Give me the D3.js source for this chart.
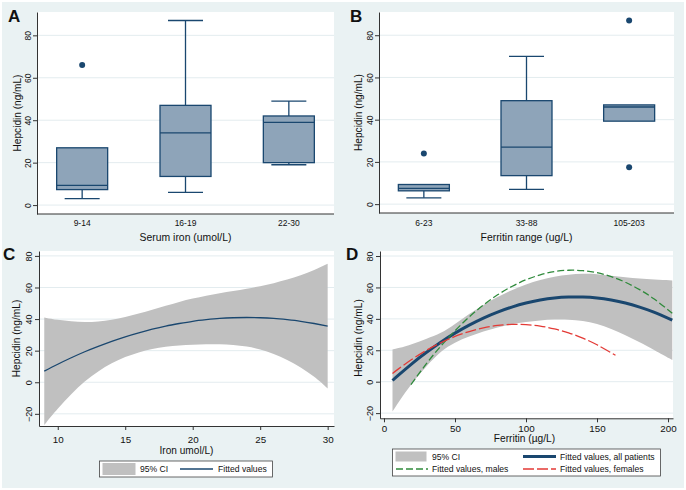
<!DOCTYPE html>
<html><head><meta charset="utf-8">
<script src="https://cdn.jsdelivr.net/npm/d3@7"></script>
<style>body{margin:0;background:#fff}svg{display:block}text{font-family:"Liberation Sans",Arial,sans-serif;fill:#111}</style>
</head><body><svg id="c" width="686" height="490"></svg>
<script>
// ---------- DATA ----------
// Panel A: hepcidin by serum iron group
const ironGroups = ["9-14", "16-19", "22-30"];
const ironLowW  = [3, 6, 19];
const ironQ1    = [7.3, 13.5, 20];
const ironMed   = [9.3, 34, 39];
const ironQ3    = [27, 47, 42];
const ironHighW = [27, 87, 49];
const ironOut   = [[66], [], []];
// Panel B: hepcidin by ferritin range
const ferrGroups = ["6-23", "33-88", "105-203"];
const ferrLowW  = [3, 7, 39.3];
const ferrQ1    = [6.3, 13.5, 39.3];
const ferrMed   = [7.5, 27, 46];
const ferrQ3    = [9.3, 49, 47];
const ferrHighW = [9.3, 70, 47];
const ferrOut   = [[24], [], [87, 17.5]];
// Panel C: quadratic fit of hepcidin on iron, with 95% CI
const ironX    = [9, 10, 11, 12, 13, 14, 15, 16, 17, 18, 19, 20, 21, 22, 23, 24, 25, 26, 27, 28, 29, 30];
const ironFit  = [7, 11.4, 15.5, 19.3, 22.7, 25.9, 28.8, 31.3, 33.6, 35.6, 37.2, 38.6, 39.6, 40.4, 40.85, 41, 40.85, 40.4, 39.6, 38.6, 37.2, 35.6];
const ironUp   = [41, 39.4, 38.5, 38, 38.4, 39.5, 41.2, 43.4, 45.9, 48.4, 50.9, 53, 54.8, 56.4, 57.8, 59.2, 60.8, 62.7, 64.9, 67.6, 70.9, 75.1];
const ironLo   = [-27, -16.6, -7.5, 0.8, 7, 12.2, 16.1, 19, 21.1, 22.5, 23.3, 23.8, 24.1, 24.1, 23.7, 22.7, 20.9, 18.1, 14.3, 9.6, 3.7, -3.9];
// Panel D: quadratic fits of hepcidin on ferritin
const ferrX    = [6, 10, 20, 30, 40, 50, 60, 70, 80, 90, 100, 110, 120, 130, 140, 150, 160, 170, 180, 190, 203];
const ferrFit  = [0.75, 4, 11.7, 18.7, 25.1, 30.9, 36, 40.5, 44.3, 47.5, 50.1, 52, 53.3, 53.9, 53.9, 53.3, 52, 50.1, 47.5, 44.3, 39.2];
const ferrUp   = [20.5, 21.2, 23.9, 27.4, 30.6, 36.7, 43.2, 49, 54, 58.4, 62.1, 64.9, 67, 68.2, 68.8, 68.6, 67.4, 66.4, 65.6, 65, 64.5];
const ferrLo   = [-19, -13.2, -0.5, 10, 19.6, 25.1, 28.8, 32, 34.6, 36.6, 38.1, 39.1, 39.6, 39.6, 38.8, 36.9, 33.6, 29.6, 25.2, 20.3, 13.8];
const maleX    = [19, 30, 40, 50, 60, 70, 80, 90, 100, 110, 120, 130, 140, 150, 160, 170, 180, 190, 203];
const maleFit  = [-1.8, 11.6, 22.6, 32.4, 41.2, 48.8, 55.3, 60.6, 64.9, 68, 70.1, 70.95, 70.7, 69.4, 66.9, 63.3, 58.6, 52.8, 43.6];
const femX     = [6, 10, 20, 30, 40, 50, 60, 70, 80, 90, 100, 110, 120, 130, 140, 150, 163];
const femFit   = [5.2, 8, 14.4, 20, 24.8, 28.8, 31.9, 34.2, 35.8, 36.45, 36.3, 35.4, 33.6, 31.1, 27.7, 23.5, 16.8];
// tick labels
const boxYTicks = [0, 20, 40, 60, 80];
const fitYTicks = [-20, 0, 20, 40, 60, 80];
const ironXTicks = [10, 15, 20, 25, 30];
const ferrXTicks = [0, 50, 100, 150, 200];

// ---------- STYLE ----------
const NAVY = "#1a476f", BOXFILL = "#8ea4b9", CIG = "#c0c0c0", GREEN = "#2f8a3b", RED = "#e33a36";
const BG = "#eaf2f3", GRID = "#e3ecef", AX = "#333";
const svg = d3.select("#c");
svg.append("rect").attr("width", 686).attr("height", 490).attr("fill", "#fff");
svg.append("rect").attr("x", 2).attr("y", 2).attr("width", 682).attr("height", 486).attr("fill", BG);

function plotArea(x0, x1, y0, y1) {
  svg.append("rect").attr("x", x0).attr("y", y0).attr("width", x1 - x0).attr("height", y1 - y0).attr("fill", "#fff");
}
function yAxis(x0, x1, y, ticks, fs, off) {
  svg.append("g").selectAll("line").data(ticks).join("line")
    .attr("x1", x0).attr("x2", x1).attr("y1", d => y(d)).attr("y2", d => y(d))
    .attr("stroke", GRID).attr("stroke-width", 1);
  const g = svg.append("g").attr("transform", `translate(${x0},0)`)
    .call(d3.axisLeft(y).tickValues(ticks).tickSize(4).tickSizeOuter(0).tickFormat(d3.format("d")));
  g.attr("font-family", null).attr("font-size", null);
  g.select(".domain").attr("stroke", AX);
  g.selectAll(".tick line").attr("stroke", AX);
  g.selectAll(".tick text").attr("transform", "rotate(-90)").attr("x", 0).attr("y", -off)
    .attr("dy", 0).attr("text-anchor", "middle").attr("font-size", fs).attr("fill", "#111");
}
function xAxisNum(y0, x, ticks, fs, off) {
  const g = svg.append("g").attr("transform", `translate(0,${y0})`)
    .call(d3.axisBottom(x).tickValues(ticks).tickSize(4).tickSizeOuter(0).tickFormat(d3.format("d")));
  g.attr("font-family", null).attr("font-size", null);
  g.select(".domain").attr("stroke", AX);
  g.selectAll(".tick line").attr("stroke", AX);
  g.selectAll(".tick text").attr("y", off).attr("dy", 0).attr("font-size", fs).attr("fill", "#111");
}
function label(t, x, y, fs, opts = {}) {
  const e = svg.append("text").attr("x", x).attr("y", y).attr("font-size", fs).text(t)
    .attr("text-anchor", opts.anchor || "middle");
  if (opts.rot) e.attr("transform", `rotate(-90,${x},${y})`);
  if (opts.bold) e.attr("font-weight", "bold");
  return e;
}

function boxPanel(x0, x1, y0, y1, cats, lo, q1, med, q3, hi, outs, xTitle, letter, lx) {
  plotArea(x0, x1, y0, y1);
  const y = d3.scaleLinear().domain([-4.2, 91]).range([y1, y0]);
  const x = d3.scalePoint().domain(cats).range([x0, x1]).padding(0.437);
  yAxis(x0, x1, y, boxYTicks, 8.5, 6.5);
  svg.append("line").attr("x1", x0).attr("x2", x1).attr("y1", y1).attr("y2", y1).attr("stroke", AX);
  const bw = 51, cw = 35;
  const g = svg.append("g");
  cats.forEach((c, i) => {
    const cx = x(c);
    g.append("line").attr("x1", cx).attr("x2", cx).attr("y1", y(q3[i])).attr("y2", y(hi[i])).attr("stroke", NAVY).attr("stroke-width", 1.3);
    g.append("line").attr("x1", cx).attr("x2", cx).attr("y1", y(q1[i])).attr("y2", y(lo[i])).attr("stroke", NAVY).attr("stroke-width", 1.3);
    if (hi[i] > q3[i]) g.append("line").attr("x1", cx - cw / 2).attr("x2", cx + cw / 2).attr("y1", y(hi[i])).attr("y2", y(hi[i])).attr("stroke", NAVY).attr("stroke-width", 1.3);
    if (lo[i] < q1[i]) g.append("line").attr("x1", cx - cw / 2).attr("x2", cx + cw / 2).attr("y1", y(lo[i])).attr("y2", y(lo[i])).attr("stroke", NAVY).attr("stroke-width", 1.3);
    g.append("rect").attr("x", cx - bw / 2).attr("width", bw).attr("y", y(q3[i])).attr("height", y(q1[i]) - y(q3[i]))
      .attr("fill", BOXFILL).attr("stroke", NAVY).attr("stroke-width", 1.3);
    g.append("line").attr("x1", cx - bw / 2).attr("x2", cx + bw / 2).attr("y1", y(med[i])).attr("y2", y(med[i])).attr("stroke", NAVY).attr("stroke-width", 1.3);
    outs[i].forEach(v => g.append("circle").attr("cx", cx).attr("cy", y(v)).attr("r", 3).attr("fill", NAVY));
    label(c, cx, 226, 8.5);
  });
  label(xTitle, (x0 + x1) / 2, 240.5, 10.4);
  label("Hepcidin (ng/mL)", lx, (y0 + y1) / 2, 10.1, {rot: true});
  label(letter, x0 - 29, 22, 17, {bold: true, anchor: "start"});
}

boxPanel(37, 334, 12, 214, ironGroups, ironLowW, ironQ1, ironMed, ironQ3, ironHighW, ironOut, "Serum iron (umol/L)", "A", 20.5);
boxPanel(379, 674, 12, 213, ferrGroups, ferrLowW, ferrQ1, ferrMed, ferrQ3, ferrHighW, ferrOut, "Ferritin range (ug/L)", "B", 362);

// ---------- Panel C ----------
{
  const x0 = 39, x1 = 334, y0 = 251, y1 = 426;
  plotArea(x0, x1, y0, y1);
  const x = d3.scaleLinear().domain([8.61, 30.47]).range([x0, x1]);
  const y = d3.scaleLinear().domain([-27.7, 83.1]).range([y1, y0]);
  yAxis(x0, x1, y, fitYTicks, 9, 7.5);
  xAxisNum(y1, x, ironXTicks, 9.8, 17.3);
  const idx = d3.range(ironX.length);
  svg.append("path").datum(idx).attr("fill", CIG)
    .attr("d", d3.area().x(i => x(ironX[i])).y0(i => y(ironLo[i])).y1(i => y(ironUp[i])).curve(d3.curveBasis));
  svg.append("path").datum(idx).attr("fill", "none").attr("stroke", NAVY).attr("stroke-width", 1.3)
    .attr("d", d3.line().x(i => x(ironX[i])).y(i => y(ironFit[i])).curve(d3.curveNatural));
  label("Iron umol/L)", (x0 + x1) / 2, 454, 10.1);
  label("Hepcidin (ng/mL)", 20, 338.5, 10.2, {rot: true});
  label("C", 3, 260, 17, {bold: true, anchor: "start"});
  // legend
  svg.append("rect").attr("x", 99.5).attr("y", 461).attr("width", 173).attr("height", 16).attr("fill", "#fff").attr("stroke", "#444").attr("stroke-width", 0.8);
  svg.append("rect").attr("x", 102.5).attr("y", 463).attr("width", 33).attr("height", 12).attr("fill", CIG);
  label("95% CI", 140, 472, 8.6, {anchor: "start"});
  svg.append("line").attr("x1", 180).attr("x2", 213).attr("y1", 469).attr("y2", 469).attr("stroke", NAVY).attr("stroke-width", 1.3);
  label("Fitted values", 218, 472, 8.6, {anchor: "start"});
}

// ---------- Panel D ----------
{
  const x0 = 380, x1 = 673, y0 = 251, y1 = 418.3;
  plotArea(x0, x1, y0, y1);
  const x = d3.scaleLinear().domain([-2.8, 203.5]).range([x0, x1]);
  const y = d3.scaleLinear().domain([-23.3, 83.2]).range([y1, y0]);
  yAxis(x0, x1, y, fitYTicks, 9, 7.5);
  xAxisNum(y1, x, ferrXTicks, 9.8, 13.4);
  const idx = d3.range(ferrX.length);
  svg.append("path").datum(idx).attr("fill", CIG)
    .attr("d", d3.area().x(i => x(ferrX[i])).y0(i => y(ferrLo[i])).y1(i => y(ferrUp[i])).curve(d3.curveBasis));
  svg.append("path").datum(idx).attr("fill", "none").attr("stroke", NAVY).attr("stroke-width", 3)
    .attr("d", d3.line().x(i => x(ferrX[i])).y(i => y(ferrFit[i])).curve(d3.curveNatural));
  svg.append("path").datum(d3.range(maleX.length)).attr("fill", "none").attr("stroke", GREEN).attr("stroke-width", 1.3)
    .attr("stroke-dasharray", "7,3")
    .attr("d", d3.line().x(i => x(maleX[i])).y(i => y(maleFit[i])).curve(d3.curveNatural));
  svg.append("path").datum(d3.range(femX.length)).attr("fill", "none").attr("stroke", RED).attr("stroke-width", 1.3)
    .attr("stroke-dasharray", "11,3")
    .attr("d", d3.line().x(i => x(femX[i])).y(i => y(femFit[i])).curve(d3.curveNatural));
  label("Ferritin (\u00b5g/L)", (x0 + x1) / 2 - 2, 441.5, 10.2);
  label("Hepcidin (ng/mL)", 362, 338, 10.2, {rot: true});
  label("D", 346, 260, 17, {bold: true, anchor: "start"});
  // legend
  svg.append("rect").attr("x", 392.5).attr("y", 449).attr("width", 268).attr("height", 27).attr("fill", "#fff").attr("stroke", "#444").attr("stroke-width", 0.8);
  svg.append("rect").attr("x", 395.5).attr("y", 451.5).attr("width", 31).attr("height", 10).attr("fill", CIG);
  label("95% CI", 432, 460, 8.6, {anchor: "start"});
  svg.append("line").attr("x1", 523).attr("x2", 556).attr("y1", 456.5).attr("y2", 456.5).attr("stroke", NAVY).attr("stroke-width", 3);
  label("Fitted values, all patients", 560, 460, 8.6, {anchor: "start"});
  svg.append("line").attr("x1", 396).attr("x2", 428).attr("y1", 469).attr("y2", 469).attr("stroke", GREEN).attr("stroke-width", 1.3).attr("stroke-dasharray", "7,3");
  label("Fitted values, males", 432, 472, 8.6, {anchor: "start"});
  svg.append("line").attr("x1", 523).attr("x2", 556).attr("y1", 469).attr("y2", 469).attr("stroke", RED).attr("stroke-width", 1.3).attr("stroke-dasharray", "11,3");
  label("Fitted values, females", 560, 472, 8.6, {anchor: "start"});
}
</script></body></html>
